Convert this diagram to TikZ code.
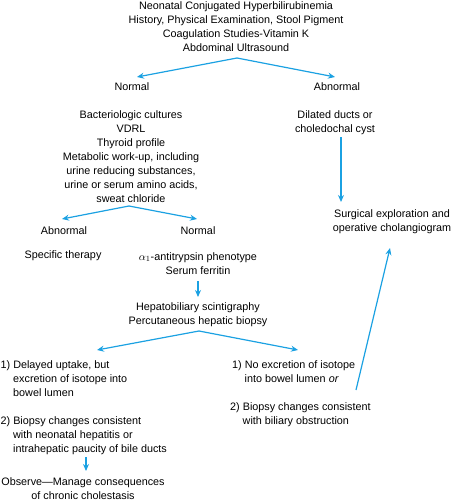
\documentclass[tikz,border=0pt]{standalone}
\usepackage{fontspec}
\setmainfont{Liberation Sans}
\usetikzlibrary{arrows.meta}
\definecolor{arrblue}{HTML}{1BA1E2}
\tikzset{
  txt/.style={inner sep=0pt, align=center, font=\fontsize{10.8}{14}\selectfont},
  ltxt/.style={inner sep=0pt, align=left, font=\fontsize{10.8}{14}\selectfont, anchor=north west},
  arr/.style={draw=arrblue, line width=1.2pt, -{Stealth[length=7pt,width=6pt]}}
}
\newcommand{\ind}{\hspace*{12.5pt}}
\begin{document}
\begin{tikzpicture}[x=1pt,y=-1pt]
\useasboundingbox (0,0) rectangle (451,500);
% text
\node[txt, anchor=north] (top) at (236,1) {Neonatal Conjugated Hyperbilirubinemia\\History, Physical Examination, Stool Pigment\\Coagulation Studies-Vitamin K\\Abdominal Ultrasound};
\node[txt] (normal1) at (132,87) {Normal};
\node[txt] (abnormal1) at (337,87) {Abnormal};
\node[txt, anchor=north] (labs) at (131,110) {Bacteriologic cultures\\VDRL\\Thyroid profile\\Metabolic work-up, including\\urine reducing substances,\\urine or serum amino acids,\\sweat chloride};
\node[txt, anchor=north] (dilated) at (335,110) {Dilated ducts or\\choledochal cyst};
\node[txt, anchor=north] (surg) at (392,209) {Surgical exploration and\\operative cholangiogram};
\node[txt] (abn2) at (64,231) {Abnormal};
\node[txt] (norm2) at (198,231) {Normal};
\node[txt] (spec) at (63,256) {Specific therapy};
\node[txt, anchor=north] (alpha) at (198,252) {$\alpha_1$-antitrypsin phenotype\\Serum ferritin};
\node[txt, anchor=north] (hepat) at (198,302) {Hepatobiliary scintigraphy\\Percutaneous hepatic biopsy};
\node[ltxt] (delayed) at (0.5,360) {1) Delayed uptake, but\\\ind excretion of isotope into\\\ind bowel lumen};
\node[ltxt] (noexc) at (232,360) {1) No excretion of isotope\\\ind into bowel lumen \textit{or}};
\node[ltxt] (biopL) at (0.5,416) {2) Biopsy changes consistent\\\ind with neonatal hepatitis or\\\ind intrahepatic paucity of bile ducts};
\node[ltxt] (biopR) at (230,402) {2) Biopsy changes consistent\\\ind with biliary obstruction};
\node[txt, anchor=north] (observe) at (83,477) {Observe---Manage consequences\\of chronic cholestasis};
% connector points
\coordinate (s1) at (237,58);
\coordinate (e1a) at (137,77);
\coordinate (e1b) at (335,77);
\coordinate (s2) at (341,137);
\coordinate (e2) at (341,202);
\coordinate (s3) at (129,206);
\coordinate (e3a) at (62,219);
\coordinate (e3b) at (197,219);
\coordinate (s4) at (198,281);
\coordinate (e4) at (198,297);
\coordinate (s5) at (199,331);
\coordinate (e5a) at (97,350);
\coordinate (e5b) at (298,350);
\coordinate (s6) at (356,390);
\coordinate (e6) at (390,248);
\coordinate (s7) at (86,457);
\coordinate (e7) at (86,471);
% connectors
\draw[arr] (s1) -- (e1a);
\draw[arr] (s1) -- (e1b);
\draw[arr] (s2) -- (e2);
\draw[arr] (s3) -- (e3a);
\draw[arr] (s3) -- (e3b);
\draw[arr] (s4) -- (e4);
\draw[arr] (s5) -- (e5a);
\draw[arr] (s5) -- (e5b);
\draw[arr] (s6) -- (e6);
\draw[arr] (s7) -- (e7);
\end{tikzpicture}
\end{document}
